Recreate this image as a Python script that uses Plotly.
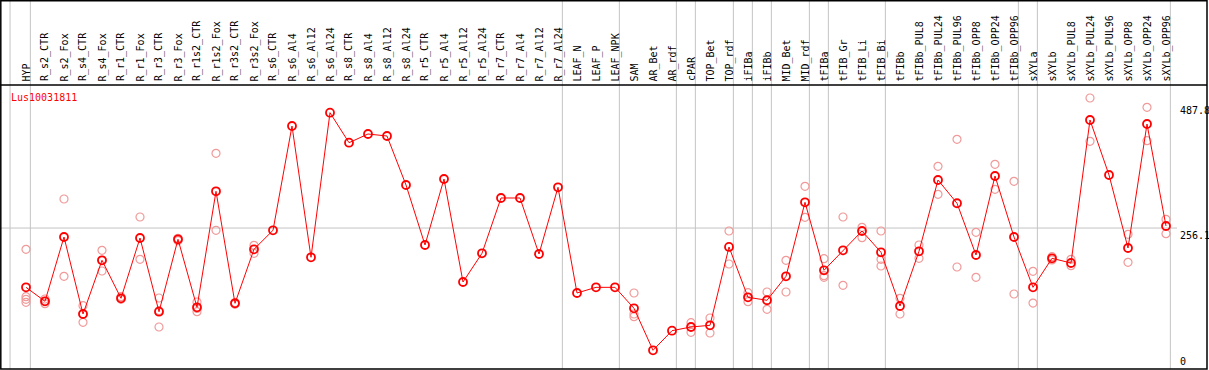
import plotly.graph_objects as go

categories = ["HYP", "R_s2_CTR", "R_s2_Fox", "R_s4_CTR", "R_s4_Fox", "R_r1_CTR", "R_r1_Fox",
              "R_r3_CTR", "R_r3_Fox", "R_r1s2_CTR", "R_r1s2_Fox", "R_r3s2_CTR", "R_r3s2_Fox",
              "R_s6_CTR", "R_s6_Al4", "R_s6_Al12", "R_s6_Al24", "R_s8_CTR", "R_s8_Al4",
              "R_s8_Al12", "R_s8_Al24", "R_r5_CTR", "R_r5_Al4", "R_r5_Al12", "R_r5_Al24",
              "R_r7_CTR", "R_r7_Al4", "R_r7_Al12", "R_r7_Al24", "LEAF_N", "LEAF_P", "LEAF_NPK",
              "SAM", "AR_Bet", "AR_rdf", "cPAR", "TOP_Bet", "TOP_rdf", "iFIBa", "iFIBb",
              "MID_Bet", "MID_rdf", "tFIBa", "tFIB_Gr", "tFIB_Li", "tFIB_Bi", "tFIBb",
              "tFIBb_PUL8", "tFIBb_PUL24", "tFIBb_PUL96", "tFIBb_OPP8", "tFIBb_OPP24",
              "tFIBb_OPP96", "sXYLa", "sXYLb", "sXYLb_PUL8", "sXYLb_PUL24", "sXYLb_PUL96",
              "sXYLb_OPP8", "sXYLb_OPP24", "sXYLb_OPP96"]

means = [146.2, 120.3, 239.5, 96.8, 196.3, 125.9, 237.6, 101.0, 235.2, 109.2, 324.2, 116.6, 216.7,
         251.9, 445.2, 201.9, 469.9, 414.3, 430.4, 426.7, 335.9, 224.7, 347.0, 156.1, 209.3,
         311.8, 311.8, 208.0, 331.6, 135.7, 146.2, 146.2,
         107.3, 29.5, 65.8, 72.7, 75.8, 221.0, 127.7, 122.2, 166.6, 303.8, 177.8, 214.8, 250.6,
         211.1, 111.6, 213.0, 345.1, 302.0, 206.1, 352.6, 239.5, 146.2, 200.0, 191.3, 456.4,
         354.4, 219.1, 448.9, 259.9]

replicates = [
    [216.7, 128.8, 124.0, 118.4], [124.6, 115.9, 120.3], [309.9, 166.6], [112.1, 81.4, 96.8],
    [214.8, 176.5, 196.3], [128.8, 124.0], [276.6, 198.1], [126.4, 72.7, 103.0], [237.0, 232.6],
    [119.0, 101.0, 107.0], [394.6, 251.9], [118.0, 115.0], [224.1, 209.3],
    [], [], [], [], [], [], [], [], [], [], [], [], [], [], [], [], [], [], [],
    [135.7, 96.8, 91.8], [], [], [80.6, 62.8], [89.3, 61.5], [250.6, 189.4], [136.2, 119.6],
    [137.5, 105.5], [196.3, 137.5], [333.5, 276.0], [199.3, 167.8, 164.8], [276.6, 150.0],
    [257.5, 238.2], [250.6, 198.1, 185.7], [125.9, 96.8], [224.7, 200.0], [370.5, 318.6],
    [420.6, 183.9], [248.2, 164.8], [374.2, 327.9], [342.7, 133.8], [175.9, 117.1],
    [203.0, 196.9], [198.1, 186.3], [497.1, 416.9], [], [244.5, 192.6], [479.9, 418.0],
    [272.3, 245.6]]

y_tick_values = [487.8, 256.1, 0]
y_tick_labels = ["487.8", "256.1", "0"]
gene_name = "Lus10031811"
group_ends = [0, 28, 31, 34, 35, 37, 38, 39, 41, 42, 45, 52, 53, 60]

W, H = 1209, 370
xs = list(range(len(categories)))

rep_x, rep_y = [], []
for i, reps in enumerate(replicates):
    for v in reps:
        rep_x.append(i)
        rep_y.append(v)

fig = go.Figure()
fig.add_trace(go.Scatter(x=rep_x, y=rep_y, mode="markers",
                         marker=dict(symbol="circle-open", size=8, color="#f09a9a",
                                     line=dict(width=1.2, color="#f09a9a")),
                         hoverinfo="skip", showlegend=False))
fig.add_trace(go.Scatter(x=xs, y=means, mode="lines+markers",
                         line=dict(color="#ff0000", width=1),
                         marker=dict(symbol="circle-open", size=8, color="#ff0000",
                                     line=dict(width=1.8, color="#ff0000")),
                         showlegend=False))

shapes = []
gray = "#c4c4c4"
sep_positions = [-0.84] + [g + 0.23 for g in group_ends]
for sx in sep_positions:
    shapes.append(dict(type="line", xref="x", yref="paper", x0=sx, x1=sx,
                       y0=1 - 369 / H, y1=1, line=dict(color=gray, width=1), layer="below"))
shapes.append(dict(type="line", xref="paper", yref="y", x0=0, x1=1177 / W,
                   y0=y_tick_values[1], y1=y_tick_values[1],
                   line=dict(color=gray, width=1), layer="below"))
shapes.append(dict(type="line", xref="paper", yref="paper", x0=0, x1=1207 / W,
                   y0=1 - 85 / H, y1=1 - 85 / H, line=dict(color="black", width=1.5)))
shapes.append(dict(type="rect", xref="paper", yref="paper", x0=0.8 / W, x1=1207 / W,
                   y0=1 - 369 / H, y1=1 - 0.8 / H, line=dict(color="black", width=1.5)))

annotations = []
for i, c in enumerate(categories):
    annotations.append(dict(x=i, y=1 - 83.5 / H, xref="x", yref="paper", text=c,
                            textangle=-90, showarrow=False, xanchor="center", yanchor="bottom",
                            font=dict(family="DejaVu Sans Mono", size=10, color="black")))
annotations.append(dict(x=9 / W, y=1 - 97 / H, xref="paper", yref="paper", text=gene_name,
                        showarrow=False, xanchor="left", yanchor="middle",
                        font=dict(family="DejaVu Sans Mono", size=10, color="#ff0000")))
for v, t in zip(y_tick_values, y_tick_labels):
    annotations.append(dict(x=1178 / W, y=v, xref="paper", yref="y", text=t, showarrow=False,
                            xanchor="left", yanchor=("bottom" if v == 0 else "top"),
                            yshift=(-3 if v == 0 else 0),
                            font=dict(family="DejaVu Sans Mono", size=10, color="black")))

fig.update_layout(
    width=W, height=H, margin=dict(l=0, r=0, t=0, b=0),
    paper_bgcolor="white", plot_bgcolor="white",
    xaxis=dict(range=[-26 / 19, (W - 26) / 19], visible=False, fixedrange=True),
    yaxis=dict(range=[-3.8 * 1.8536, 366.2 * 1.8536], visible=False, fixedrange=True),
    shapes=shapes, annotations=annotations,
)

fig.write_html("out.html", config={"displayModeBar": False},
               post_script="document.body.style.margin='0';document.body.style.overflow='hidden';")
